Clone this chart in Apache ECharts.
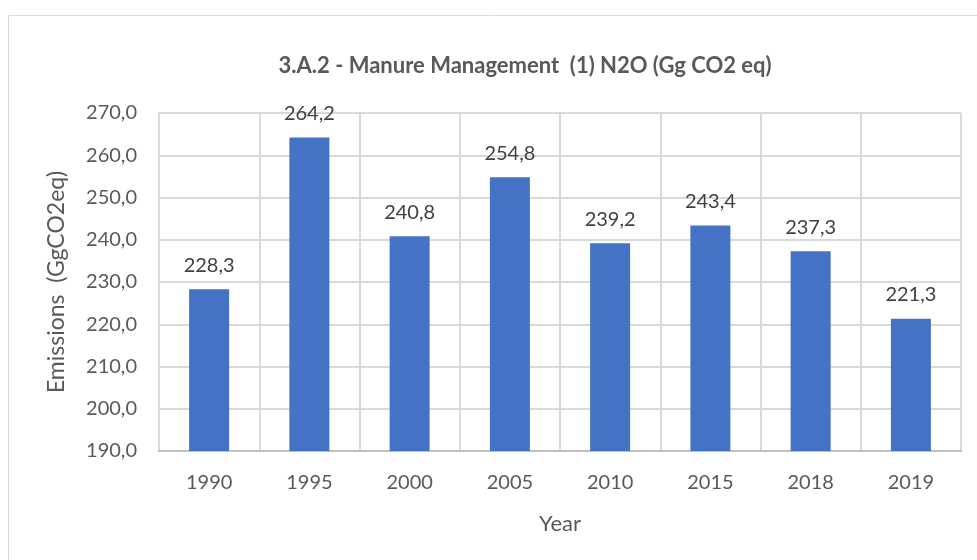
<!DOCTYPE html>
<html>
<head>
<meta charset="utf-8">
<script src="https://cdn.jsdelivr.net/npm/echarts@6/dist/echarts.min.js"></script>
<style>
  html, body { margin: 0; padding: 0; background: #fff; }
  #chart { width: 977px; height: 560px; }
</style>
</head>
<body>
<div id="chart"></div>
<script>
const years = ['1990', '1995', '2000', '2005', '2010', '2015', '2018', '2019']
const emissions = [228.3, 264.2, 240.8, 254.8, 239.2, 243.4, 237.3, 221.3]

const font = 'Lato, "Open Sans", sans-serif'
const comma = v => Number(v).toFixed(1).replace('.', ',')

const chart = echarts.init(document.getElementById('chart'))
chart.setOption({
  animation: false,
  textStyle: { fontFamily: font },
  graphic: [{
    type: 'rect',
    shape: { x: 8.5, y: 15.5, width: 1000, height: 600 },
    style: { fill: 'none', stroke: '#d9d9d9', lineWidth: 1 },
    z: -1
  }],
  title: {
    text: '3.A.2 - Manure Management  (1) N2O (Gg CO2 eq)',
    left: 520,
    top: 50,
    textAlign: 'center',
    textStyle: { fontFamily: font, fontSize: 22, fontWeight: 'bold', color: '#595959' }
  },
  grid: { left: 159, right: 16, top: 113, bottom: 109 },
  xAxis: {
    type: 'category',
    data: years,
    name: 'Year',
    nameLocation: 'middle',
    nameGap: 62,
    nameTextStyle: { fontSize: 22, color: '#595959', fontFamily: font },
    axisLine: { lineStyle: { color: '#bfbfbf', width: 2 } },
    axisTick: { show: false },
    axisLabel: { fontSize: 20, color: '#595959', margin: 22 },
    splitLine: { show: true, lineStyle: { color: '#d9d9d9', width: 2 } }
  },
  yAxis: {
    type: 'value',
    min: 190,
    max: 270,
    interval: 10,
    name: 'Emissions  (GgCO2eq)',
    nameLocation: 'middle',
    nameGap: 91,
    nameTextStyle: { fontSize: 23, color: '#595959', fontFamily: font },
    axisLine: { show: true, lineStyle: { color: '#d9d9d9', width: 2 } },
    axisTick: { show: false },
    axisLabel: { fontSize: 20, color: '#595959', margin: 22, formatter: comma },
    splitLine: { lineStyle: { color: '#d9d9d9', width: 2 } }
  },
  series: [{
    type: 'bar',
    data: emissions,
    barWidth: 40,
    itemStyle: { color: '#4472c4' },
    label: {
      show: true,
      position: 'top',
      distance: 14,
      fontSize: 20,
      color: '#404040',
      formatter: p => comma(p.value)
    }
  }]
})
</script>
</body>
</html>
